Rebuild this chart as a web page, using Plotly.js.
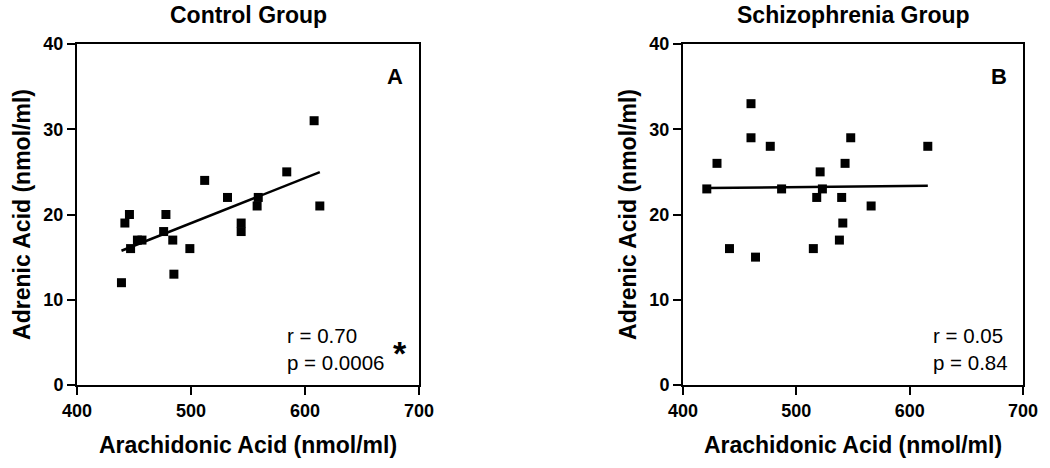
<!DOCTYPE html>
<html>
<head>
<meta charset="utf-8">
<script src="https://cdn.plot.ly/plotly-3.0.1.min.js"></script>
<style>html,body{margin:0;padding:0;background:#fff;}#chart{width:1050px;height:468px;}</style>
</head>
<body>
<div id="chart"></div>
<script>
// Control group (panel A)
const controlAA = [608, 584, 512, 532, 559, 558, 613, 446, 442, 478, 476, 544, 544, 453, 457, 447, 484, 499, 485, 439];
const controlAdrenic = [31, 25, 24, 22, 22, 21, 21, 20, 19, 20, 18, 19, 18, 17, 17, 16, 17, 16, 13, 12];
// Schizophrenia group (panel B)
const schizAA = [460, 460, 548, 477, 616, 430, 543, 521, 421, 487, 523, 518, 540, 566, 541, 538, 441, 515, 464];
const schizAdrenic = [33, 29, 29, 28, 28, 26, 26, 25, 23, 23, 23, 22, 22, 21, 19, 17, 16, 16, 15];

const xTickVals = [400, 500, 600, 700];
const xTickLabels = ['400', '500', '600', '700'];
const yTickVals = [0, 10, 20, 30, 40];
const yTickLabels = ['0', '10', '20', '30', '40'];

const panelTitles = ['Control Group', 'Schizophrenia Group'];
const panelLetters = ['A', 'B'];
const statsText = ['r = 0.70<br>p = 0.0006', 'r = 0.05<br>p = 0.84'];
const xTitle = 'Arachidonic Acid (nmol/ml)';
const yTitle = 'Adrenic Acid (nmol/ml)';

function fitLine(xs, ys) {
  const n = xs.length;
  const mx = xs.reduce((a, b) => a + b, 0) / n;
  const my = ys.reduce((a, b) => a + b, 0) / n;
  let sxy = 0, sxx = 0;
  for (let i = 0; i < n; i++) { sxy += (xs[i] - mx) * (ys[i] - my); sxx += (xs[i] - mx) ** 2; }
  const b = sxy / sxx, a = my - b * mx;
  const x0 = Math.min(...xs), x1 = Math.max(...xs);
  return { x: [x0, x1], y: [a + b * x0, a + b * x1] };
}

const FONT = 'Arial, "Liberation Sans", sans-serif';
const fitA = fitLine(controlAA, controlAdrenic);
const fitB = fitLine(schizAA, schizAdrenic);

const mk = { symbol: 'square', size: 9, color: '#000' };
const data = [
  { x: controlAA, y: controlAdrenic, type: 'scatter', mode: 'markers', marker: mk, xaxis: 'x', yaxis: 'y' },
  { x: fitA.x, y: fitA.y, type: 'scatter', mode: 'lines', line: { color: '#000', width: 2.5 }, xaxis: 'x', yaxis: 'y' },
  { x: schizAA, y: schizAdrenic, type: 'scatter', mode: 'markers', marker: mk, xaxis: 'x2', yaxis: 'y2' },
  { x: fitB.x, y: fitB.y, type: 'scatter', mode: 'lines', line: { color: '#000', width: 2.5 }, xaxis: 'x2', yaxis: 'y2' }
];

const bold = s => '<b>' + s + '</b>';

function xax(domain, anchor) {
  return {
    domain: domain, anchor: anchor, range: [400, 700],
    tickmode: 'array', tickvals: xTickVals, ticktext: xTickLabels.map(bold),
    showline: true, mirror: true, linewidth: 2, linecolor: '#000',
    ticks: 'outside', ticklen: 8, tickwidth: 2, tickcolor: '#000',
    showgrid: false, zeroline: false,
    tickfont: { family: FONT, size: 18, color: '#000', weight: 700 },
    title: { text: bold(xTitle), font: { family: FONT, size: 23, color: '#000' }, standoff: 17 }
  };
}
function yax(anchor) {
  return {
    domain: [83 / 468, 424 / 468], anchor: anchor, range: [0, 40],
    tickmode: 'array', tickvals: yTickVals, ticktext: yTickLabels.map(bold),
    showline: true, mirror: true, linewidth: 2, linecolor: '#000',
    ticks: 'outside', ticklen: 8, tickwidth: 2, tickcolor: '#000',
    showgrid: false, zeroline: false,
    tickfont: { family: FONT, size: 18, color: '#000', weight: 700 },
    title: { text: bold(yTitle), font: { family: FONT, size: 23, color: '#000' }, standoff: 6 }
  };
}

const ann = [];
const doms = [['x domain', 'y domain'], ['x2 domain', 'y2 domain']];
const txL = [0.608, 0.729];
for (let i = 0; i < 2; i++) {
  ann.push({ xref: doms[i][0], yref: doms[i][1], x: 0.5, y: 1.04, xanchor: 'center', yanchor: 'bottom',
    text: bold(panelTitles[i]), showarrow: false, font: { family: FONT, size: 23, color: '#000' } });
  ann.push({ xref: doms[i][0], yref: doms[i][1], x: 0.93, y: 0.905, xanchor: 'center', yanchor: 'middle',
    text: bold(panelLetters[i]), showarrow: false, font: { family: FONT, size: 22, color: '#000' } });
  ann.push({ xref: doms[i][0], yref: doms[i][1], x: txL[i], y: 0.025, xanchor: 'left', yanchor: 'bottom', align: 'left',
    text: statsText[i], showarrow: false, font: { family: FONT, size: 20.5, color: '#000' } });
}
ann.push({ xref: 'x domain', yref: 'y domain', x: 0.945, y: 0.095, xanchor: 'center', yanchor: 'middle',
  text: bold('*'), showarrow: false, font: { family: FONT, size: 34, color: '#000' } });

const layout = {
  width: 1050, height: 468,
  margin: { l: 0, r: 0, t: 0, b: 0 },
  paper_bgcolor: '#fff', plot_bgcolor: '#fff',
  showlegend: false,
  font: { family: FONT, color: '#000' },
  xaxis: xax([77 / 1050, 419 / 1050], 'y'),
  yaxis: yax('x'),
  xaxis2: xax([683 / 1050, 1023 / 1050], 'y2'),
  yaxis2: yax('x2'),
  annotations: ann
};

Plotly.newPlot('chart', data, layout, { displayModeBar: false, staticPlot: true });
</script>
</body>
</html>
